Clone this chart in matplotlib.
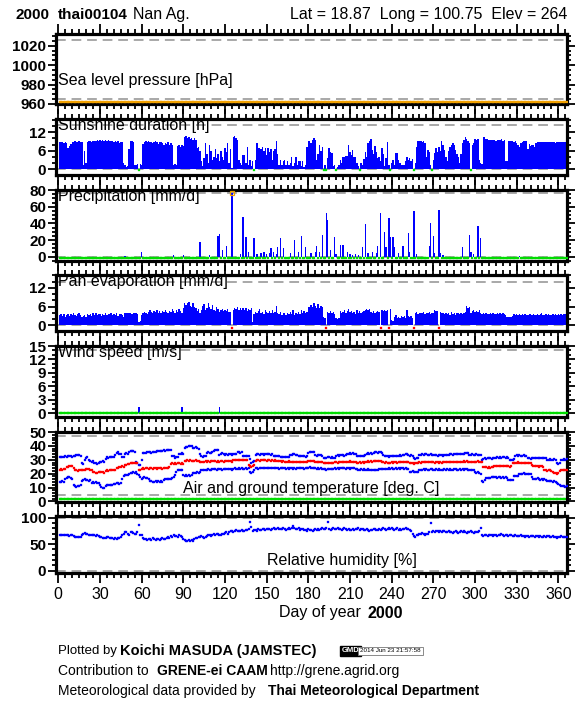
import numpy as np
import matplotlib
matplotlib.use("Agg")
import matplotlib.pyplot as plt
from matplotlib.ticker import MultipleLocator

plt.rcParams['font.family'] = ['Liberation Sans', 'DejaVu Sans']

# ---------------- data ----------------
year = 2000
station = "thai00104"
station_name = "Nan Ag."
lat, lon, elev = "18.87", "100.75", "264"

days = np.arange(1, 367)

sunshine = [
    8.8, 8.9, 8.7, 8.6, 8.8, 8.5, 7.0, 7.4, 8.2, 8.8,
    8.9, 9.0, 8.8, 8.9, 9.0, 8.9, 8.7, 1.5, 6.0, 2.0,
    8.8, 9.0, 9.1, 8.9, 9.3, 9.0, 9.2, 9.5, 9.2, 9.4,
    9.3, 9.4, 9.2, 9.5, 9.3, 9.4, 9.2, 9.0, 9.3, 8.7,
    9.2, 8.9, 9.1, 8.6, 8.9, 8.7, 2.0, 1.2, 0.8, 1.0,
    6.5, 9.0, 9.2, 8.8, 1.5, 1.2, 1.6, 0.0, 1.8, 1.5,
    8.2, 8.9, 9.0, 8.8, 9.1, 8.9, 8.7, 8.5, 8.8, 9.0,
    8.7, 8.3, 8.8, 8.9, 8.4, 8.0, 8.6, 8.2, 8.8, 7.8,
    8.5, 8.0, 1.5, 1.8, 1.2, 7.5, 7.8, 7.2, 8.0, 7.6,
    10.5, 10.8, 10.2, 10.4, 9.8, 10.1, 9.6, 10.0, 9.4, 6.8,
    7.2, 6.0, 2.5, 1.0, 3.5, 8.5, 5.0, 2.0, 7.9, 6.0,
    3.0, 4.0, 6.5, 3.5, 5.0, 2.5, 6.0, 4.0, 3.0, 7.0,
    5.5, 8.5, 2.0, 6.5, 0.5, 10.5, 10.8, 10.2, 9.5, 3.0,
    2.0, 1.5, 4.7, 4.5, 2.0, 7.3, 1.5, 3.0, 1.0, 2.5,
    0.0, 3.0, 8.4, 7.0, 7.0, 6.5, 7.2, 6.0, 7.0, 4.5,
    6.8, 5.5, 6.5, 3.0, 6.0, 6.5, 9.0, 5.0, 1.5, 3.0,
    1.4, 2.5, 3.0, 1.2, 2.5, 1.5, 2.0, 4.0, 1.0, 2.0,
    4.1, 1.5, 2.5, 2.8, 1.0, 2.8, 0.8, 1.4, 7.1, 9.3,
    9.0, 8.4, 9.5, 10.0, 9.5, 3.0, 5.0, 7.9, 6.0, 7.3,
    0.0, 1.2, 0.0, 3.6, 6.8, 5.5, 5.2, 1.0, 1.2, 0.0,
    0.8, 1.4, 3.0, 2.0, 4.1, 4.0, 4.2, 4.3, 7.9, 5.7,
    4.5, 6.3, 4.0, 4.1, 2.0, 1.0, 0.0, 2.0, 1.5, 3.2,
    5.7, 4.0, 8.4, 9.0, 9.7, 6.3, 5.0, 7.6, 5.5, 3.6,
    4.0, 2.5, 6.8, 5.0, 1.0, 3.6, 8.8, 1.5, 0.0, 2.0,
    3.0, 1.5, 5.2, 5.4, 3.0, 2.0, 1.4, 1.5, 1.4, 2.5,
    4.1, 3.0, 3.6, 2.5, 3.2, 0.0, 2.0, 7.3, 9.3, 9.0,
    9.2, 8.9, 9.0, 8.5, 4.1, 6.3, 5.5, 1.5, 0.0, 3.0,
    5.2, 6.8, 5.5, 7.1, 6.0, 9.0, 8.0, 6.3, 4.0, 2.5,
    6.0, 7.1, 7.9, 8.6, 8.0, 6.3, 5.0, 4.1, 2.0, 5.0,
    8.4, 9.5, 10.4, 9.7, 9.2, 8.4, 0.0, 7.9, 8.5, 9.7,
    9.6, 9.7, 3.0, 2.0, 1.8, 10.6, 10.4, 9.7, 9.8, 9.5,
    9.6, 9.4, 9.5, 9.6, 9.3, 9.5, 9.4, 9.6, 9.7, 9.3,
    9.4, 2.5, 2.8, 9.2, 9.3, 9.0, 9.2, 8.9, 9.1, 8.4,
    8.0, 7.3, 8.6, 8.8, 9.0, 9.3, 9.0, 6.5, 8.2, 7.6,
    8.0, 7.8, 7.3, 8.5, 8.8, 8.8, 8.8, 8.7, 8.8, 8.8,
    8.8, 8.7, 8.8, 8.8, 8.7, 8.8, 8.8, 8.6, 8.8, 8.8,
    8.7, 8.8, 8.8, 8.7, 8.8, 8.8,
]

# precipitation: only the wet days (all other days are 0 mm)
rain_days = [48, 60, 83, 90, 102, 109, 115, 116, 118, 121, 125, 131, 133, 135,
             137, 141, 143, 146, 148, 150, 152, 153, 155, 157, 158,
             160, 162, 167, 170, 173, 175, 178, 182, 185, 186, 188, 190, 193,
             194, 196, 199, 200, 203, 205, 208, 210, 212, 214, 216, 219, 221,
             223, 226, 229, 230, 232, 235, 236, 238, 239, 241, 242, 245, 248,
             252, 253, 256, 258, 267, 268, 270, 271, 274, 275, 277, 291, 296,
             297, 299, 302, 304, 332]
rain_mm = [1, 5.5, 2, 2, 17, 2, 25, 27, 8, 13, 76, 3, 48, 24,
           5, 22, 3, 4, 5, 3, 4, 10, 5, 3, 12,
           22, 10, 4, 20, 5, 25, 12, 4, 5, 13, 6, 26, 53,
           44, 8, 24, 3, 14, 14, 5, 3, 2, 3, 2, 12, 39,
           4, 6, 4, 13, 52, 30, 11, 46, 24, 24, 12, 4, 13,
           28, 5, 55, 3, 13, 40, 25, 4, 56, 4, 2, 11, 26,
           5, 3, 37, 22, 1]
flagged_rain_day = 125

nan = np.nan
pan_evap = [
    3.3, 3.6, 3.0, 3.5, 2.8, 3.4, 3.7, 3.1, 3.5, 3.2,
    3.8, 3.4, 3.0, 3.6, 3.9, 3.3, 2.6, 3.0, 3.4, 2.8,
    3.5, 3.2, 3.6, 3.0, 3.8, 3.4, 3.9, 3.3, 3.7, 3.5,
    3.1, 3.6, 3.4, 3.8, 3.2, 3.7, 3.5, 3.9, 3.3, 3.6,
    3.4, 3.8, 3.1, 3.5, 3.7, 3.3, 2.8, 3.9, 4.0, 3.8,
    4.1, 3.9, 3.6, 4.0, 3.8, 4.1, 3.5, 1.0, 1.5, 3.2,
    3.8, 4.2, 4.0, 3.6, 4.4, 5.0, 4.2, 3.8, 4.6, 4.3,
    4.8, 4.0, 4.5, 3.9, 4.7, 4.2, 5.0, 4.4, 3.9, 4.6,
    4.3, 5.1, 4.5, 3.8, 4.9, 4.4, 5.2, 4.6, 4.0, 5.5,
    7.0, 6.5, 7.3, 7.6, 6.2, 5.8, 7.0, 6.0, 5.5, 4.5,
    5.2, 4.0, 4.8, 6.2, 6.8, 5.0, 5.5, 7.3, 6.0, 5.2,
    6.5, 5.0, 4.5, 5.8, 5.3, 4.2, 4.8, 5.3, 4.5, 5.0,
    4.6, 5.3, 4.2, 4.4, nan, 5.0, 5.6, 5.2, 5.8, 4.9,
    5.4, 4.8, 5.7, 5.0, 5.5, 4.6, 5.3, 4.9, 5.6, 1.0,
    3.5, 4.2, 3.8, 4.6, 5.3, 4.0, 4.4, 3.7, 4.8, 4.2,
    3.9, 4.5, 4.1, 4.8, 3.8, 4.4, 6.3, 4.0, 3.5, 4.2,
    3.2, 3.8, 4.1, 3.4, 3.9, 3.5, 4.2, 3.7, 4.8, 3.3,
    4.0, 3.6, 4.4, 3.5, 4.8, 3.9, 4.5, 3.8, 4.2, 5.8,
    6.0, 6.5, 5.8, 7.0, 6.2, 5.5, 6.8, 5.6, 6.2, 5.8,
    2.7, 2.5, nan, 4.2, 3.8, 4.5, 4.0, 4.2, 3.6, 2.2,
    2.0, 2.3, 4.5, 3.8, 4.3, 4.8, 4.0, 4.5, 5.3, 4.2,
    4.6, 3.9, 4.4, 3.7, 4.8, 4.1, 4.5, 3.8, 4.3, 4.6,
    5.0, 5.2, 4.9, 5.1, 4.4, 4.0, 4.6, 3.9, 4.3, 4.7,
    4.2, nan, 4.8, 4.5, 4.9, 4.6, 4.8, nan, 5.3, 1.7,
    1.5, 2.8, 3.2, 2.5, 2.8, 2.2, 3.0, 2.6, 2.9, 2.4,
    4.8, 3.0, 2.7, 3.1, 2.5, nan, 3.8, 4.2, 3.7, 4.0,
    4.1, 3.8, 4.2, 3.7, 4.0, 3.9, 4.2, 3.6, 4.1, 3.8,
    4.8, 4.5, 4.7, nan, 4.3, 3.8, 4.1, 3.5, 4.0, 3.6,
    3.9, 3.4, 4.2, 3.7, 4.0, 3.3, 3.8, 4.1, 3.5, 3.9,
    3.6, 4.0, 4.3, 6.3, 5.5, 6.0, 3.8, 4.5, 4.8, 4.3,
    4.6, 4.2, 4.8, 4.0, 3.7, 3.8, 3.6, 3.9, 3.7, 3.5,
    3.8, 3.6, 3.9, 3.7, 3.5, 3.8, 3.6, 3.9, 3.7, 3.8,
    3.6, 3.4, 2.7, 2.6, 2.8, 2.7, 2.9, 3.5, 3.3, 3.6,
    3.4, 3.7, 3.3, 3.5, 3.2, 3.6, 3.4, 3.3, 3.7, 3.5,
    3.3, 3.6, 3.4, 3.2, 3.5, 3.3, 3.6, 4.0, 3.4, 3.2,
    3.5, 3.3, 3.6, 3.4, 3.2, 3.5, 3.3, 3.6, 3.4, 3.5,
    3.3, 3.6, 3.4, 3.7, 3.5, 3.3,
]

# wind speed: only the non-calm days (all other days are 0 m/s)
wind_days = [58, 89, 116]
wind_ms = [1.3, 1.3, 1.3]

t_max = [
    32.0, 32.3, 31.8, 32.2, 32.5, 32.0, 32.4, 32.8, 32.5, 32.2,
    32.6, 33.0, 33.5, 33.8, 33.2, 32.6, 27.5, 27.0, 29.8, 31.5,
    31.8, 30.0, 28.8, 28.5, 29.0, 27.8, 27.5, 27.3, 27.6, 28.4,
    28.6, 28.9, 28.5, 30.5, 31.7, 31.5, 32.0, 32.3, 32.0, 31.8,
    33.5, 35.0, 35.3, 34.0, 34.2, 32.0, 31.8, 34.5, 34.8, 34.3,
    35.5, 36.0, 36.5, 36.2, 35.8, 28.6, 28.0, 26.5, 26.0, 30.0,
    35.0, 35.2, 35.0, 35.4, 35.6, 35.3, 35.0, 35.6, 35.5, 35.8,
    36.0, 36.2, 36.0, 36.5, 36.3, 36.8, 36.5, 36.9, 37.0, 36.7,
    37.2, 33.0, 32.5, 31.0, 31.8, 32.2, 34.0, 34.5, 34.8, 34.2,
    38.8, 39.2, 39.5, 40.0, 39.6, 39.8, 38.5, 38.2, 39.0, 38.6,
    38.0, 34.5, 33.0, 32.2, 32.8, 33.0, 34.8, 35.5, 35.0, 34.6,
    35.7, 36.5, 37.2, 37.4, 36.8, 33.5, 34.2, 35.0, 34.0, 33.5,
    34.0, 33.8, 34.3, 34.5, 33.6, 34.2, 34.0, 34.4, 35.5, 35.7,
    35.2, 35.6, 32.8, 32.5, 32.6, 32.4, 32.8, 30.5, 28.0, 28.5,
    29.0, 33.5, 34.0, 34.2, 33.8, 34.3, 34.0, 33.6, 34.1, 34.4,
    33.9, 34.2, 33.8, 34.0, 32.6, 32.8, 32.4, 32.6, 32.5, 32.0,
    32.2, 31.8, 32.0, 32.3, 31.9, 32.0, 33.3, 33.8, 34.0, 34.5,
    33.5, 33.8, 32.6, 32.5, 32.8, 32.4, 32.6, 32.3, 33.0, 35.0,
    35.7, 35.4, 35.8, 35.5, 33.3, 33.0, 33.5, 33.2, 33.4, 33.0,
    31.5, 31.0, 31.2, 32.0, 31.8, 31.5, 32.0, 31.2, 31.6, 33.0,
    33.3, 33.0, 33.5, 33.2, 33.4, 33.0, 33.6, 34.5, 34.2, 34.6,
    34.3, 34.8, 34.5, 34.2, 32.6, 32.8, 32.4, 32.6, 32.8, 32.5,
    33.5, 34.5, 34.8, 34.2, 34.6, 34.3, 35.0, 35.3, 35.7, 35.2,
    35.5, 35.7, 35.0, 33.2, 32.5, 33.0, 32.8, 32.2, 32.6, 33.0,
    32.5, 32.8, 33.0, 32.6, 32.9, 33.2, 33.0, 33.4, 33.3, 34.5,
    34.2, 33.5, 33.0, 33.2, 33.0, 31.0, 30.8, 31.2, 31.0, 33.5,
    33.8, 34.0, 33.6, 33.9, 34.1, 33.7, 33.8, 34.0, 33.5, 33.8,
    33.6, 33.3, 33.0, 33.5, 33.2, 33.4, 33.0, 33.6, 33.3, 33.1,
    33.4, 34.0, 34.2, 33.8, 34.1, 34.3, 33.9, 34.2, 34.0, 34.4,
    34.1, 34.5, 35.0, 35.2, 34.8, 33.8, 33.6, 34.0, 33.8, 33.5,
    33.9, 33.6, 33.8, 33.2, 30.0, 30.5, 31.0, 30.8, 31.2, 31.0,
    31.3, 30.9, 31.1, 31.0, 31.2, 31.7, 31.5, 31.8, 31.6, 31.9,
    31.7, 31.5, 31.8, 31.4, 30.0, 30.2, 29.8, 30.5, 33.0, 33.2,
    32.8, 33.3, 33.0, 32.9, 33.2, 32.8, 33.0, 31.0, 31.2, 30.8,
    31.0, 31.3, 31.1, 31.2, 31.5, 31.4, 31.2, 31.5, 31.3, 31.4,
    31.0, 30.2, 30.0, 30.4, 30.2, 30.0, 30.3, 29.8, 27.5, 27.2,
    28.0, 30.0, 30.2, 30.4, 30.1, 30.3,
]

t_mean = [
    23.0, 23.2, 22.8, 23.3, 23.5, 24.5, 25.0, 25.5, 25.7, 25.2,
    24.0, 22.8, 22.4, 22.2, 22.5, 22.3, 22.6, 22.4, 23.0, 23.2,
    23.1, 23.3, 23.0, 22.5, 21.4, 21.0, 20.8, 20.7, 21.0, 20.9,
    21.2, 21.4, 20.5, 22.0, 22.3, 22.0, 22.4, 22.3, 22.6, 22.4,
    23.0, 24.0, 24.3, 24.8, 25.0, 25.3, 25.0, 26.0, 26.5, 27.0,
    27.2, 27.4, 27.6, 27.9, 28.0, 27.8, 27.5, 22.6, 23.0, 23.5,
    23.8, 23.6, 23.9, 23.8, 23.5, 23.8, 24.0, 23.7, 23.9, 23.8,
    23.6, 23.9, 24.0, 23.8, 23.7, 24.1, 23.9, 24.2, 24.0, 24.5,
    27.0, 27.4, 27.2, 27.6, 27.3, 27.5, 27.4, 27.2, 27.6, 27.3,
    29.0, 29.3, 29.5, 29.2, 29.6, 29.3, 29.4, 29.1, 29.5, 29.3,
    29.0, 28.6, 28.4, 28.7, 28.5, 28.8, 28.6, 28.9, 28.7, 29.0,
    28.8, 29.1, 29.0, 28.7, 28.9, 28.6, 28.8, 29.0, 28.7, 28.9,
    29.2, 28.8, 29.0, 29.3, 28.6, 29.5, 29.8, 29.6, 29.9, 29.7,
    30.0, 29.8, 29.6, 29.9, 29.5, 29.7, 26.5, 25.5, 25.0, 25.8,
    26.0, 29.0, 29.5, 29.6, 29.4, 29.7, 29.5, 29.8, 29.6, 29.4,
    29.7, 29.5, 29.3, 29.6, 29.4, 29.5, 29.2, 29.4, 29.0, 28.8,
    28.6, 28.9, 28.5, 28.7, 28.4, 28.8, 28.6, 28.3, 28.5, 28.7,
    28.4, 28.6, 28.2, 28.5, 28.3, 28.6, 28.4, 28.1, 28.5, 28.8,
    29.0, 29.2, 28.9, 29.1, 28.7, 28.4, 28.6, 28.3, 28.5, 28.2,
    27.9, 27.6, 27.8, 27.5, 27.9, 27.7, 28.0, 27.8, 28.1, 28.3,
    28.0, 28.4, 28.2, 28.5, 28.3, 28.6, 28.4, 28.7, 28.5, 28.8,
    28.6, 28.4, 28.7, 28.3, 28.0, 27.8, 28.1, 27.9, 28.2, 28.0,
    28.3, 28.5, 28.8, 28.6, 28.9, 28.7, 29.0, 28.8, 29.1, 28.9,
    29.2, 29.0, 28.5, 28.2, 27.9, 28.1, 27.8, 27.6, 28.0, 28.2,
    27.9, 28.1, 28.3, 28.0, 28.2, 28.4, 28.1, 28.5, 28.3, 28.6,
    28.4, 28.2, 28.0, 27.8, 27.6, 27.3, 27.5, 27.8, 28.0, 28.2,
    28.0, 28.3, 28.1, 28.4, 28.2, 28.5, 28.3, 28.1, 28.4, 28.2,
    28.0, 28.3, 28.1, 27.9, 28.2, 28.0, 28.3, 28.1, 28.4, 28.2,
    28.5, 28.3, 28.6, 28.4, 28.7, 28.5, 28.3, 28.6, 28.4, 28.7,
    28.5, 28.8, 28.6, 28.9, 28.7, 28.5, 28.3, 28.6, 28.4, 28.7,
    28.5, 28.8, 28.6, 28.4, 28.6, 25.0, 24.5, 24.8, 24.3, 24.6,
    24.4, 24.7, 24.9, 25.2, 25.5, 25.3, 25.6, 25.4, 25.7, 25.5,
    25.3, 25.6, 25.4, 25.2, 25.0, 25.3, 27.5, 27.8, 28.0, 27.9,
    28.1, 27.8, 28.0, 27.7, 27.9, 28.0, 27.6, 27.8, 27.5, 27.7,
    26.0, 25.5, 25.2, 25.8, 25.4, 25.0, 25.6, 25.3, 25.1, 23.0,
    22.5, 22.0, 22.8, 22.4, 21.6, 21.4, 20.5, 20.2, 20.0, 20.6,
    22.0, 22.6, 22.4, 22.8, 22.5, 22.7,
]

t_min = [
    14.3, 14.0, 14.5, 13.8, 16.5, 17.2, 17.9, 17.5, 17.0, 16.2,
    12.0, 11.0, 10.7, 11.2, 10.8, 11.5, 15.0, 15.5, 16.0, 15.6,
    15.2, 14.8, 15.3, 13.5, 14.0, 13.2, 13.8, 13.0, 13.5, 11.5,
    10.5, 9.8, 9.5, 10.8, 12.0, 11.8, 12.2, 11.5, 12.0, 12.4,
    12.8, 13.0, 13.3, 12.6, 13.5, 16.0, 18.5, 19.0, 19.2, 18.8,
    19.5, 20.5, 20.7, 21.0, 20.6, 21.2, 20.0, 19.0, 17.5, 16.5,
    17.0, 17.9, 17.2, 16.8, 16.0, 15.0, 14.5, 14.3, 14.0, 14.5,
    14.2, 14.8, 14.3, 14.6, 14.0, 15.8, 16.0, 16.3, 15.9, 16.2,
    16.0, 17.0, 17.5, 19.0, 21.0, 22.6, 22.4, 23.0, 22.8, 19.0,
    18.5, 19.0, 18.2, 18.8, 18.0, 19.2, 20.5, 20.7, 20.3, 21.0,
    20.8, 21.5, 22.6, 22.8, 22.5, 23.0, 22.8, 23.2, 23.0, 22.9,
    23.3, 23.1, 23.4, 23.0, 23.2, 23.5, 23.3, 23.0, 23.4, 23.6,
    23.2, 23.5, 23.7, 23.3, 23.0, 23.6, 23.8, 23.5, 23.7, 23.9,
    23.6, 23.8, 23.5, 23.7, 24.0, 23.6, 23.8, 21.0, 20.7, 21.2,
    22.5, 23.8, 24.0, 23.7, 24.1, 23.9, 24.2, 24.0, 23.8, 24.1,
    23.9, 24.2, 24.0, 23.8, 24.1, 23.9, 24.2, 24.0, 23.7, 23.9,
    24.1, 23.8, 24.0, 23.6, 23.9, 23.7, 24.0, 23.8, 23.5, 23.9,
    23.6, 24.0, 23.8, 24.2, 23.9, 24.1, 23.7, 24.0, 23.8, 24.3,
    24.5, 24.2, 24.4, 24.0, 23.8, 23.5, 23.9, 23.6, 23.8, 23.5,
    23.2, 23.5, 23.0, 23.3, 23.6, 23.4, 23.7, 23.5, 23.8, 23.6,
    23.9, 23.7, 24.0, 23.8, 24.1, 23.9, 23.6, 23.8, 24.0, 23.7,
    23.9, 24.1, 23.8, 23.6, 23.3, 23.0, 22.8, 23.1, 22.9, 23.2,
    23.0, 22.8, 23.1, 22.7, 22.9, 22.6, 22.8, 23.0, 22.7, 22.9,
    23.2, 23.5, 23.3, 23.6, 23.4, 23.7, 23.5, 23.8, 23.6, 23.9,
    23.7, 23.5, 23.8, 23.6, 23.9, 23.7, 24.0, 23.8, 23.6, 23.9,
    23.7, 23.5, 21.5, 21.2, 21.6, 21.4, 21.0, 21.3, 21.5, 22.8,
    23.0, 22.7, 23.1, 22.9, 23.2, 23.0, 22.8, 23.1, 23.3, 23.0,
    22.8, 23.1, 22.9, 23.2, 23.0, 22.7, 23.0, 23.2, 22.9, 23.1,
    22.9, 23.2, 23.0, 22.8, 23.1, 23.3, 23.0, 22.8, 23.1, 22.9,
    23.2, 23.0, 23.3, 23.1, 22.8, 23.0, 22.7, 22.9, 22.6, 21.0,
    20.5, 21.2, 20.3, 20.0, 15.0, 14.3, 15.5, 16.8, 17.2, 16.7,
    17.0, 17.5, 17.9, 17.3, 17.6, 17.1, 17.4, 17.8, 17.2, 17.5,
    17.0, 17.3, 16.8, 15.5, 15.8, 15.3, 15.6, 18.0, 18.3, 18.5,
    18.2, 19.5, 20.0, 19.8, 20.2, 19.7, 20.0, 19.6, 19.9, 19.5,
    17.5, 16.5, 16.0, 16.3, 16.7, 16.0, 15.8, 16.2, 15.6, 15.9,
    15.5, 14.8, 15.0, 14.5, 14.8, 14.3, 14.6, 14.0, 13.0, 12.5,
    12.0, 11.2, 10.8, 11.0, 10.7, 11.0,
]

rel_hum = [
    68, 67, 67.5, 68, 67, 66.5, 67, 66, 67, 66.5,
    65, 64, 63.5, 64, 63, 64, 67, 70, 70.5, 69.5,
    70, 68, 67, 66.5, 67, 68, 66, 67, 65.5, 64,
    63, 62, 61.5, 62, 64, 63, 61, 62.5, 61, 60,
    61, 60.5, 61, 62, 63, 67, 70, 73.5, 72, 70,
    68, 72, 73, 71, 69, 70, 72, 86, 68, 67,
    62, 60, 59, 58.5, 60, 59, 58, 61, 59.5, 58,
    60, 59, 58, 60.5, 61, 59, 60, 62, 63, 61,
    66, 64, 67, 65, 66, 64, 67, 65, 63, 60,
    57, 55.5, 56, 58, 55, 57, 56, 59, 61, 62,
    64, 63, 65, 64, 62, 63, 66, 67, 68, 66,
    67, 69, 68, 70, 69, 67, 68, 70, 69, 71,
    72, 70, 73, 74, 75, 73, 74, 76, 75, 74,
    75.5, 76, 74, 75, 77, 76, 78, 92.5, 83, 74,
    76, 77, 75, 78, 77, 76, 78, 79, 77, 78,
    79, 78, 77, 79, 80, 78, 79, 80, 78, 79,
    78, 80, 79, 77, 78, 80, 79, 81, 84, 80,
    79, 78, 80, 77, 79, 78, 76, 77, 75, 78,
    77, 76, 75, 77, 78, 76, 79, 77, 78, 80,
    79, 78, 80, 92.5, 78, 77, 79, 80, 78, 79,
    80, 78, 79, 77, 78, 80, 79, 77, 78, 76,
    77, 78, 76, 79, 78, 80, 77, 79, 78, 77,
    76, 78, 77, 75, 77, 76, 78, 79, 77, 76,
    78, 77, 79, 80, 78, 77, 79, 81, 78, 80,
    79, 77, 78, 80, 76, 78, 77, 79, 78, 80,
    79, 78, 77, 75, 70, 66, 64, 67, 68, 70,
    69, 71, 70, 68, 69, 70, 72, 89, 73, 74,
    73, 75, 74, 72, 74, 73, 75, 74, 72, 73,
    74, 72, 73, 71, 72, 74, 73, 71, 72, 74,
    73, 75, 72, 71, 73, 72, 74, 73, 71, 72,
    73, 72, 74, 80, 68, 66, 67, 68, 66, 67,
    68, 67, 66, 68, 67, 66, 68, 67, 69, 67,
    66, 68, 67, 66, 68, 67, 66, 65, 67, 66,
    65, 66, 67, 65, 66, 64, 65, 66, 64, 65,
    66, 65, 64, 66, 65, 64, 65, 63, 64, 65,
    64, 66, 65, 63, 64, 65, 63, 64, 62, 63,
    64, 65, 63, 64, 63, 64,
]

# levels at which "no data" markers are drawn
slp_missing_level = 962
ground_missing_level = 2

day_ticks = list(range(0, 361, 30))

for name, arr in [("sunshine", sunshine), ("pan_evap", pan_evap), ("t_max", t_max),
                  ("t_mean", t_mean), ("t_min", t_min), ("rel_hum", rel_hum)]:
    assert len(arr) == 366, (name, len(arr))
assert len(rain_days) == len(rain_mm), (len(rain_days), len(rain_mm))

# ---------------- build daily arrays ----------------
precip = np.zeros(366)
for d, v in zip(rain_days, rain_mm):
    precip[d - 1] = v
wind = np.zeros(366)
for d, v in zip(wind_days, wind_ms):
    wind[d - 1] = v
sunshine = np.array(sunshine, float)
pan_evap = np.array(pan_evap, float)

# ---------------- figure ----------------
W, H = 580, 710
fig = plt.figure(figsize=(W / 100, H / 100), dpi=100)
fig.patch.set_facecolor("white")

def fx(x):
    return x / W

def fy(y):
    return 1 - y / H

L, R = 56, 567
panels = [(34, 104), (119, 175), (190, 261), (275, 331), (346, 417), (432, 502), (516, 573)]
ylims = [(960, 1032), (-1.9, 16.3), (-5.2, 80), (-1.8, 16.1), (-0.85, 15), (-0.4, 50), (-4.3, 103)]
majors = [[960, 980, 1000, 1020], [0, 6, 12], [0, 20, 40, 60, 80], [0, 6, 12],
          [0, 3, 6, 9, 12, 15], [0, 10, 20, 30, 40, 50], [0, 50, 100]]
minors = [5, 2, 5, 2, 1, 2, 10]
dashes = [(965, 1026), (0, 14.2), (0, 76), (0, 13.8), (0, 14), (5, 47), (0, 100)]

BLUE = "#0000ff"
RED = "#ff0000"
GREEN = "#00dd00"
ORANGE = "#f0a000"
GRAY = "#a8a8a8"
MS_FLAG = 1.5

axes = []
for i, (top, bot) in enumerate(panels):
    ax = fig.add_axes([fx(L), fy(bot), (R - L) / W, (bot - top) / H])
    ax.set_xlim(-1.66, 366.2)
    ax.set_ylim(*ylims[i])
    ax.xaxis.set_major_locator(MultipleLocator(30))
    ax.xaxis.set_minor_locator(MultipleLocator(5))
    ax.set_yticks(majors[i])
    ax.set_yticklabels([str(t) for t in majors[i]], fontweight="bold", fontsize=11)
    ax.yaxis.set_minor_locator(MultipleLocator(minors[i]))
    ax.tick_params(axis="both", which="both", direction="out", top=True, right=True,
                   width=1.3, colors="black")
    ax.tick_params(axis="x", which="major", length=7)
    ax.tick_params(axis="x", which="minor", length=3.5)
    ax.tick_params(axis="y", which="major", length=6, pad=1)
    ax.tick_params(axis="y", which="minor", length=3)
    ax.tick_params(axis="x", labelbottom=False)
    for s in ax.spines.values():
        s.set_linewidth(2.3)
    for lev in dashes[i]:
        ax.axhline(lev, color=GRAY, lw=1.4, ls=(0, (5, 3)), zorder=1)
    axes.append(ax)

ax_slp, ax_sun, ax_pr, ax_ev, ax_ws, ax_t, ax_rh = axes

# SLP: no data -> orange markers
ax_slp.plot(days, np.full(366, slp_missing_level), ls="none", marker="s", ms=MS_FLAG,
            mfc=ORANGE, mec=ORANGE, mew=0.2, zorder=3)

# Sunshine
ax_sun.bar(days, sunshine, width=1.0, color=BLUE, linewidth=0, zorder=2)
z = days[sunshine == 0]
ax_sun.plot(z, np.full(len(z), -0.4), ls="none", marker="s", ms=MS_FLAG, mfc=GREEN, mec=GREEN,
            mew=0.2, zorder=3)

# Precipitation
ax_pr.bar(days, precip, width=1.0, color=BLUE, linewidth=0, zorder=2)
z = days[precip == 0]
ax_pr.plot(z, np.full(len(z), -1.2), ls="none", marker="s", ms=MS_FLAG, mfc=GREEN, mec=GREEN,
           mew=0.2, zorder=3)
ax_pr.plot([flagged_rain_day], [precip[flagged_rain_day - 1]], ls="none", marker="s", ms=3.2,
           mfc="none", mec=ORANGE, mew=0.9, zorder=4)

# Pan evaporation
ev = np.nan_to_num(pan_evap)
ax_ev.bar(days, ev, width=1.0, color=BLUE, linewidth=0, zorder=2)
m = days[np.isnan(pan_evap)]
ax_ev.plot(m, np.full(len(m), -1.0), ls="none", marker="s", ms=MS_FLAG, mfc=RED, mec=RED,
           mew=0.2, zorder=3)

# Wind speed
ax_ws.bar(days, wind, width=1.0, color=BLUE, linewidth=0, zorder=2)
z = days[wind == 0]
ax_ws.plot(z, np.full(len(z), 0.0), ls="none", marker="s", ms=MS_FLAG, mfc=GREEN, mec=GREEN,
           mew=0.2, zorder=3)

# Temperatures
ax_t.plot(days, np.full(366, ground_missing_level), ls="none", marker="s", ms=2.0,
          mfc=GREEN, mec=GREEN, mew=0.2, zorder=2)
ax_t.plot(days, t_max, ls="none", marker="s", ms=1.6, mfc=BLUE, mec=BLUE, mew=0.2, zorder=3)
ax_t.plot(days, t_min, ls="none", marker="s", ms=1.6, mfc=BLUE, mec=BLUE, mew=0.2, zorder=3)
ax_t.plot(days, t_mean, ls="none", marker="s", ms=1.6, mfc=RED, mec=RED, mew=0.2, zorder=3)

# Relative humidity
ax_rh.plot(days, rel_hum, ls="none", marker="s", ms=1.6, mfc=BLUE, mec=BLUE, mew=0.2, zorder=3)

# bottom day-of-year labels
ax_rh.set_xticks(day_ticks)
ax_rh.set_xticklabels([str(t) for t in day_ticks], fontsize=11.5)
ax_rh.tick_params(axis="x", labelbottom=True, pad=3)

# panel captions
cap = dict(fontsize=11.5, color="black", zorder=10)
fig.text(fx(58), fy(81), "Sea level pressure [hPa]", va="center", ha="left", **cap)
fig.text(fx(58), fy(118), "Sunshine duration [h]", va="top", ha="left", **cap)
fig.text(fx(58), fy(189), "Precipitation [mm/d]", va="top", ha="left", **cap)
fig.text(fx(58), fy(274), "Pan evaporation [mm/d]", va="top", ha="left", **cap)
fig.text(fx(58), fy(345), "Wind speed [m/s]", va="top", ha="left", **cap)
fig.text(fx(311), fy(488), "Air and ground temperature [deg. C]", va="center", ha="center", **cap)
fig.text(fx(342), fy(561), "Relative humidity [%]", va="center", ha="center", **cap)

# header
fig.text(fx(15), fy(15), f"{year}", fontsize=11, fontweight="bold", va="center", ha="left")
fig.text(fx(58), fy(15), station, fontsize=11, fontweight="bold", va="center", ha="left")
fig.text(fx(133), fy(15), station_name, fontsize=11.5, va="center", ha="left")
fig.text(fx(567), fy(15), f"Lat = {lat}  Long = {lon}  Elev = {elev}", fontsize=11.5,
         va="center", ha="right")

# x-axis title
fig.text(fx(361), fy(613), "Day of year", fontsize=11.5, va="center", ha="right")
fig.text(fx(368), fy(613), f"{year}", fontsize=11.5, fontweight="bold", va="center", ha="left")

# footer
fs = 10
fig.text(fx(58), fy(651), "Plotted by", fontsize=9.5, va="center", ha="left")
fig.text(fx(120), fy(651), "Koichi MASUDA (JAMSTEC)", fontsize=10.5, fontweight="bold",
         va="center", ha="left")
fig.text(fx(342), fy(651), "GMD", fontsize=5.5, fontweight="bold", color="white", va="center",
         ha="left", bbox=dict(boxstyle="square,pad=0.2", fc="black", ec="black"))
fig.text(fx(360), fy(651), "2014 Jun 23 21:57:58", fontsize=4.5, va="center", ha="left",
         bbox=dict(boxstyle="square,pad=0.3", fc="white", ec="#777777", lw=0.6))
fig.text(fx(58), fy(671), "Contribution to", fontsize=fs, va="center", ha="left")
fig.text(fx(157), fy(671), "GRENE-ei CAAM", fontsize=fs, fontweight="bold", va="center", ha="left")
fig.text(fx(270), fy(671), "http://grene.agrid.org", fontsize=fs, va="center", ha="left")
fig.text(fx(58), fy(691), "Meteorological data provided by", fontsize=fs, va="center", ha="left")
fig.text(fx(268), fy(691), "Thai Meteorological Department", fontsize=fs, fontweight="bold",
         va="center", ha="left")

fig.savefig("out.png", dpi=100, facecolor="white")
